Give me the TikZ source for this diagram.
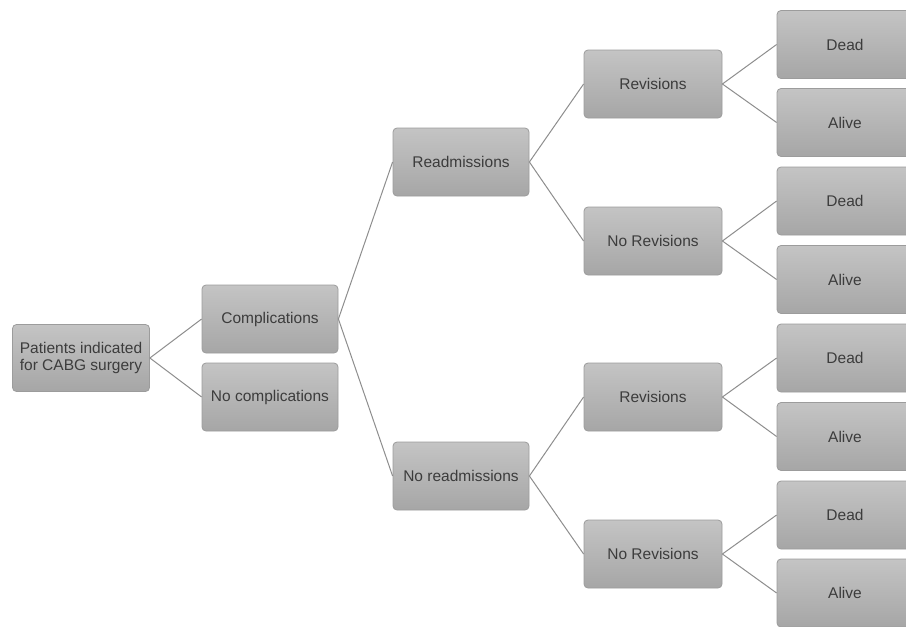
\documentclass[tikz,border=0pt]{standalone}
\usepackage{fontspec}
\setmainfont{Liberation Sans}
\definecolor{boxtop}{HTML}{C4C4C4}
\definecolor{boxbot}{HTML}{A6A6A6}
\definecolor{boxline}{HTML}{9C9C9C}
\definecolor{linkc}{HTML}{8E8E8E}
\definecolor{txt}{HTML}{3C3C3C}
\tikzset{
  box/.style={rectangle, rounded corners=4pt, draw=boxline, line width=0.8pt,
    top color=boxtop, bottom color=boxbot, minimum width=136pt, minimum height=68pt,
    inner sep=1pt, text=txt, font=\fontsize{15.5}{17.5}\selectfont, align=center},
  link/.style={draw=linkc, line width=1pt}
}
\begin{document}
\begin{tikzpicture}[x=1pt,y=-1pt]
\useasboundingbox[fill=white] (0,0) rectangle (906,627);
\node[box, minimum width=137pt, minimum height=67pt] (pat) at (81,358) {Patients indicated\\for CABG surgery};
\node[box] (comp) at (270,319) {Complications};
\node[box] (nocomp) at (270,397) {No complications};
\node[box] (read) at (461,162) {Readmissions};
\node[box] (noread) at (461,476) {No readmissions};
\node[box, minimum width=138pt] (rev1) at (653,84) {Revisions};
\node[box, minimum width=138pt] (norev1) at (653,241) {No Revisions};
\node[box, minimum width=138pt] (rev2) at (653,397) {Revisions};
\node[box, minimum width=138pt] (norev2) at (653,554) {No Revisions};
\node[box] (d1) at (845,44.5) {Dead};
\node[box] (a1) at (845,122.5) {Alive};
\node[box] (d2) at (845,201) {Dead};
\node[box] (a2) at (845,279.5) {Alive};
\node[box] (d3) at (845,358) {Dead};
\node[box] (a3) at (845,436.5) {Alive};
\node[box] (d4) at (845,515) {Dead};
\node[box] (a4) at (845,593) {Alive};
\draw[link] (pat.east) -- (comp.west);
\draw[link] (pat.east) -- (nocomp.west);
\draw[link] (comp.east) -- (read.west);
\draw[link] (comp.east) -- (noread.west);
\draw[link] (read.east) -- (rev1.west);
\draw[link] (read.east) -- (norev1.west);
\draw[link] (noread.east) -- (rev2.west);
\draw[link] (noread.east) -- (norev2.west);
\draw[link] (rev1.east) -- (d1.west);
\draw[link] (rev1.east) -- (a1.west);
\draw[link] (norev1.east) -- (d2.west);
\draw[link] (norev1.east) -- (a2.west);
\draw[link] (rev2.east) -- (d3.west);
\draw[link] (rev2.east) -- (a3.west);
\draw[link] (norev2.east) -- (d4.west);
\draw[link] (norev2.east) -- (a4.west);
\end{tikzpicture}
\end{document}
